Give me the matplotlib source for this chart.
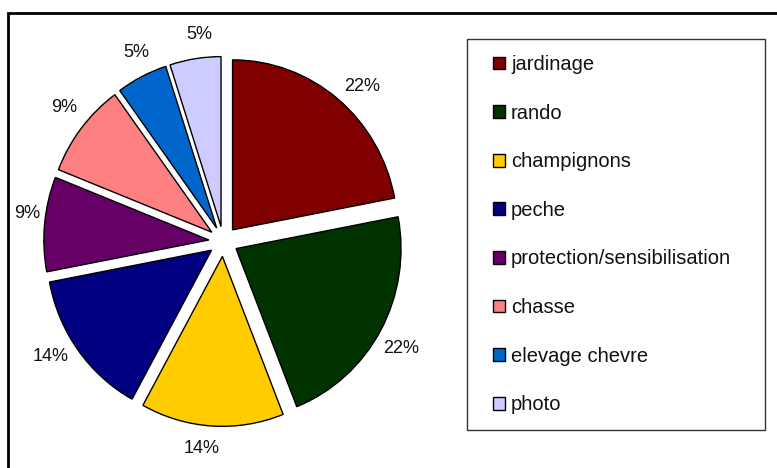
import numpy as np
import matplotlib.pyplot as plt
from matplotlib.patches import Rectangle

plt.rcParams['font.family'] = ['Liberation Sans', 'DejaVu Sans']

# data
activites = ["jardinage", "rando", "champignons", "peche",
             "protection/sensibilisation", "chasse", "elevage chevre", "photo"]
parts = [22, 22, 14, 14, 9, 9, 5, 5]
couleurs = ["#800000", "#003300", "#FFCC00", "#000080",
            "#660066", "#FF8080", "#0066CC", "#CCCCFF"]

W, H = 777, 468
fig = plt.figure(figsize=(W / 100, H / 100), dpi=100)

# pie axes: centre ~ (223, 241) px, radius ~165 px wide / 170 px tall
cx, cy, half = 223.3, 241.4, 200
rx, ry = 165, 170
ax = fig.add_axes([(cx - half) / W, (H - cy - half) / H, 2 * half / W, 2 * half / H])
wedges, _, autotexts = ax.pie(
    parts,
    colors=couleurs,
    explode=[0.088] * len(parts),
    startangle=90,
    counterclock=False,
    autopct="%.0f%%",
    wedgeprops=dict(edgecolor="black", linewidth=1),
    textprops=dict(fontsize=13, color="#111111"),
)
ax.set_xlim(-half / rx, half / rx)
ax.set_ylim(-half / ry, half / ry)
ax.set_aspect("auto")
ax.axis("off")

# percentage labels outside the slices (about 193 px from the slice tip)
dist = 193
for w, t in zip(wedges, autotexts):
    ang = np.deg2rad((w.theta1 + w.theta2) / 2 - 2.5)
    x0, y0 = w.center
    t.set_position((x0 + dist * np.cos(ang) / rx, y0 + dist * np.sin(ang) / ry))

# keep labels inside the outer frame
fig.canvas.draw()
r = fig.canvas.get_renderer()
for t in autotexts:
    bb = t.get_window_extent(r)
    if bb.x0 < 14:
        x, y = ax.transData.transform(t.get_position())
        t.set_position(ax.transData.inverted().transform((x + 14 - bb.x0, y)))

# outer frame (cut by the image right and bottom edges)
fig.patches.append(Rectangle((7.5 / W, -0.1), 1.2, (H - 13) / H + 0.1,
                             transform=fig.transFigure, fill=False,
                             edgecolor="black", linewidth=2))

# legend box
lx0, ly0, lx1, ly1 = 467, 39, 765, 430
fig.patches.append(Rectangle((lx0 / W, (H - ly1) / H), (lx1 - lx0) / W, (ly1 - ly0) / H,
                             transform=fig.transFigure, fill=False,
                             edgecolor="#333333", linewidth=1))

leg = fig.legend(wedges, activites, loc="upper left",
                 bbox_to_anchor=(493 / W, (H - 55) / H),
                 frameon=False, fontsize=14.5, labelspacing=1.47,
                 handlelength=0.6, handleheight=0.6, handletextpad=0.3,
                 borderpad=0, borderaxespad=0)
for t in leg.get_texts():
    t.set_color("#111111")

fig.savefig("out.png", dpi=100)
